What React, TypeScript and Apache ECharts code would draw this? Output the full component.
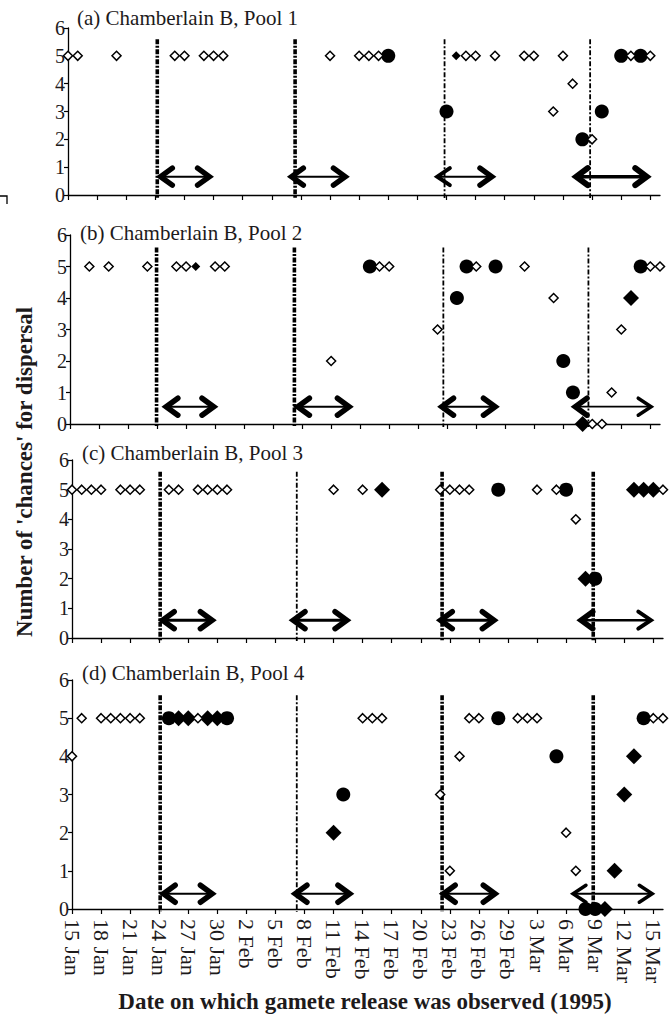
import React, { useEffect, useRef } from 'react';
import * as echarts from 'echarts';

// ---------- DATA ----------
const dateLabels = ['15 Jan', '18 Jan', '21 Jan', '24 Jan', '27 Jan', '30 Jan', '2 Feb', '5 Feb', '8 Feb', '11 Feb', '14 Feb', '17 Feb', '20 Feb', '23 Feb', '26 Feb', '29 Feb', '3 Mar', '6 Mar', '9 Mar', '12 Mar', '15 Mar'];
const tickDays = dateLabels.map((_, i) => i * 3); // day index from 15 Jan
const yTicks = [0, 1, 2, 3, 4, 5, 6];

const panelTitles = ['(a) Chamberlain B, Pool 1', '(b) Chamberlain B, Pool 2', '(c) Chamberlain B, Pool 3', '(d) Chamberlain B, Pool 4'];
const yAxisTitle = "Number of 'chances' for dispersal";
const xAxisTitle = 'Date on which gamete release was observed (1995)';

// [day, chances]
const openA = [[0, 5], [1, 5], [5, 5], [11, 5], [12, 5], [14, 5], [15, 5], [16, 5], [27, 5], [30, 5], [31, 5], [32, 5], [41, 5], [42, 5], [44, 5], [47, 5], [48, 5], [51, 5], [52, 4], [50, 3], [54, 2], [58, 5], [60, 5]];
const smallFilledA = [[40, 5]];
const filledDiamondA: number[][] = [];
const circleA = [[33, 5], [39, 3], [53, 2], [55, 3], [57, 5], [59, 5]];
const vLinesA = [9.2, 23.4, 38.8, 53.8];
const arrowsA = [[9.2, 14.9, 0.66], [22.7, 28.9, 0.66], [37.8, 44.0, 0.66], [52.0, 60.0, 0.66]];

const openB = [[2, 5], [4, 5], [8, 5], [11, 5], [12, 5], [15, 5], [16, 5], [27, 2], [32, 5], [33, 5], [38, 3], [42, 5], [47, 5], [50, 4], [54, 0], [55, 0], [56, 1], [57, 3], [60, 5], [61, 5]];
const smallFilledB = [[13, 5]];
const filledDiamondB = [[53, 0], [58, 4]];
const circleB = [[31, 5], [40, 4], [41, 5], [44, 5], [51, 2], [52, 1], [59, 5]];
const vLinesB = [8.95, 23.2, 38.6, 53.6];
const arrowsB = [[9.6, 15.2, 0.55], [23.2, 29.2, 0.55], [38.1, 44.3, 0.55], [51.9, 60.3, 0.55]];

const openC = [[0, 5], [1, 5], [2, 5], [3, 5], [5, 5], [6, 5], [7, 5], [10, 5], [11, 5], [13, 5], [14, 5], [15, 5], [16, 5], [27, 5], [30, 5], [38, 5], [39, 5], [40, 5], [41, 5], [48, 5], [50, 5], [52, 4], [61, 5]];
const smallFilledC: number[][] = [];
const filledDiamondC = [[32, 5], [58, 5], [59, 5], [60, 5], [53, 2]];
const circleC = [[44, 5], [51, 5], [54, 2]];
const vLinesC = [9.1, 23.2, 38.2, 53.8];
const arrowsC = [[9.0, 14.8, 0.6], [22.5, 28.7, 0.6], [37.7, 43.9, 0.6], [52.2, 60.0, 0.6]];

const openD = [[0, 4], [1, 5], [3, 5], [4, 5], [5, 5], [6, 5], [7, 5], [13, 5], [30, 5], [31, 5], [32, 5], [41, 5], [42, 5], [46, 5], [47, 5], [48, 5], [60, 5], [61, 5], [40, 4], [38, 3], [51, 2], [39, 1], [52, 1]];
const smallFilledD: number[][] = [];
const filledDiamondD = [[11, 5], [12, 5], [14, 5], [15, 5], [27, 2], [58, 4], [57, 3], [56, 1], [55, 0]];
const circleD = [[10, 5], [16, 5], [28, 3], [44, 5], [59, 5], [50, 4], [53, 0], [54, 0]];
const vLinesD = [9.1, 23.2, 38.2, 53.8];
const arrowsD = [[9.1, 14.8, 0.4], [22.7, 29.0, 0.4], [38.0, 44.0, 0.4], [51.5, 60.1, 0.4]];

// ---------- STYLE ----------
const INK = '#000000';
const TXT = '#1d1a1b';
const SERIF = 'Liberation Serif';

const grids = [
  { left: 68, top: 28, width: 592, height: 167 },
  { left: 70, top: 235, width: 590, height: 189 },
  { left: 72, top: 460, width: 591, height: 178 },
  { left: 72, top: 680, width: 591, height: 229 },
];
const titleTops = [7, 222, 442, 662];
const titleLefts = [77, 80, 82, 82];
// vertical line weights: true = thick
const vLineThick = [
  [true, true, false, false],
  [true, true, false, false],
  [true, false, true, true],
  [true, false, true, true],
];
// arrow styles: [left head width, right head width, shaft width]
const arrowStyle = [
  [[5.5, 5.5, 2], [5.5, 5.5, 2], [4, 5.5, 2], [6, 6, 3.5]],
  [[5.5, 5.5, 2], [5.5, 5.5, 2], [5.5, 5.5, 2], [5.5, 3.5, 1.8]],
  [[5.5, 5.5, 3], [5.5, 5.5, 3], [5.5, 5.5, 3], [5.5, 4, 2.5]],
  [[5.5, 5.5, 2], [5.5, 5.5, 2], [5.5, 5.5, 2], [3.5, 3.5, 1.8]],
];

const panels = [
  { open: openA, small: smallFilledA, fd: filledDiamondA, circle: circleA, vlines: vLinesA, arrows: arrowsA },
  { open: openB, small: smallFilledB, fd: filledDiamondB, circle: circleB, vlines: vLinesB, arrows: arrowsB },
  { open: openC, small: smallFilledC, fd: filledDiamondC, circle: circleC, vlines: vLinesC, arrows: arrowsC },
  { open: openD, small: smallFilledD, fd: filledDiamondD, circle: circleD, vlines: vLinesD, arrows: arrowsD },
];

function buildOption() {
  const xAxis: any[] = [];
  const yAxis: any[] = [];
  const series: any[] = [];

  panels.forEach((p, i) => {
    const last = i === panels.length - 1;
    xAxis.push({
      type: 'value', gridIndex: i, min: 0, max: 61,
      axisLine: { show: true, lineStyle: { color: INK, width: 1.3 } },
      axisTick: { show: true, length: 5, customValues: tickDays, lineStyle: { color: INK, width: 1.2 } },
      axisLabel: {
        show: last, customValues: tickDays, rotate: -90, margin: 10,
        fontFamily: SERIF, fontSize: 22, color: TXT,
        formatter: (v: number) => dateLabels[Math.round(v / 3)] ?? '',
      },
      splitLine: { show: false },
    });
    yAxis.push({
      type: 'value', gridIndex: i, min: 0, max: 6, interval: 1,
      axisLine: { show: true, lineStyle: { color: INK, width: 1.3 } },
      axisTick: { show: true, length: 4, lineStyle: { color: INK, width: 1.2 } },
      axisLabel: { fontFamily: SERIF, fontSize: 20, color: TXT, margin: 3, customValues: yTicks },
      splitLine: { show: false },
    });

    // vertical lines
    series.push({
      type: 'custom', xAxisIndex: i, yAxisIndex: i, clip: false, z: 1,
      data: p.vlines.map((d) => [d, 0]),
      encode: { x: 0, y: 1 },
      renderItem: (params: any, api: any) => {
        const x = api.value(0);
        const top = api.coord([x, 5.6]);
        const bot = api.coord([x, 0]);
        const thick = vLineThick[i][params.dataIndex];
        return {
          type: 'line',
          shape: { x1: top[0], y1: top[1], x2: bot[0], y2: bot[1] + 3 },
          style: { stroke: INK, lineWidth: thick ? 3.6 : 1.8, lineDash: thick ? [5, 1.5, 2, 1.5] : [5, 2, 2, 2] },
        };
      },
    });

    // arrows
    series.push({
      type: 'custom', xAxisIndex: i, yAxisIndex: i, clip: false, z: 2,
      data: p.arrows,
      encode: { x: [0, 1], y: 2 },
      renderItem: (params: any, api: any) => {
        const x1 = api.value(0), x2 = api.value(1), y = api.value(2);
        const a = api.coord([x1, y]);
        const b = api.coord([x2, y]);
        const st = arrowStyle[i][params.dataIndex];
        const hl = 15, hh = 8.5;
        const common = { stroke: INK, fill: null, lineJoin: 'miter', miterLimit: 10, lineCap: 'round' };
        return {
          type: 'group',
          children: [
            { type: 'line', shape: { x1: a[0] + 3, y1: a[1], x2: b[0] - 3, y2: b[1] }, style: { stroke: INK, lineWidth: st[2] } },
            { type: 'polyline', shape: { points: [[a[0] + hl, a[1] - hh], [a[0] + st[0] * 0.6, a[1]], [a[0] + hl, a[1] + hh]] }, style: { ...common, lineWidth: st[0] } },
            { type: 'polyline', shape: { points: [[b[0] - hl, b[1] - hh], [b[0] - st[1] * 0.6, b[1]], [b[0] - hl, b[1] + hh]] }, style: { ...common, lineWidth: st[1] } },
          ],
        };
      },
    });

    series.push({
      type: 'scatter', xAxisIndex: i, yAxisIndex: i, clip: false, z: 3,
      symbol: 'circle', symbolSize: 14, data: p.circle,
      itemStyle: { color: INK, opacity: 1 },
    });
    series.push({
      type: 'scatter', xAxisIndex: i, yAxisIndex: i, clip: false, z: 4,
      symbol: 'diamond', symbolSize: 16, data: p.fd,
      itemStyle: { color: INK, opacity: 1 },
    });
    series.push({
      type: 'scatter', xAxisIndex: i, yAxisIndex: i, clip: false, z: 5,
      symbol: 'diamond', symbolSize: 9, data: p.small,
      itemStyle: { color: INK, opacity: 1 },
    });
    series.push({
      type: 'scatter', xAxisIndex: i, yAxisIndex: i, clip: false, z: 6,
      symbol: 'diamond', symbolSize: [9, 9], data: p.open,
      itemStyle: { color: '#fff', borderColor: INK, borderWidth: 1.5, opacity: 1 },
    });
  });

  return {
    animation: false,
    backgroundColor: '#fff',
    title: panelTitles.map((t, i) => ({
      text: t, left: titleLefts[i], top: titleTops[i], padding: 0,
      textStyle: { fontFamily: SERIF, fontSize: 21, fontWeight: 'normal', color: TXT },
    })),
    grid: grids,
    xAxis,
    yAxis,
    series,
    graphic: [
      {
        type: 'text', x: 24, y: 472, rotation: Math.PI / 2,
        style: { text: yAxisTitle, font: `bold 23px "${SERIF}"`, fill: TXT, align: 'center', verticalAlign: 'middle' },
      },
      {
        type: 'text', x: 365, y: 1001,
        style: { text: xAxisTitle, font: `bold 23px "${SERIF}"`, fill: TXT, align: 'center', verticalAlign: 'middle' },
      },
      {
        type: 'polyline', shape: { points: [[0, 196], [7, 196], [7, 204]] },
        style: { stroke: INK, lineWidth: 1.3, fill: null },
      },
    ],
  };
}

export default function App() {
  const ref = useRef<HTMLDivElement>(null);
  useEffect(() => {
    if (!ref.current) return;
    const chart = echarts.init(ref.current, null, { renderer: 'svg' });
    chart.setOption(buildOption() as any);
    return () => chart.dispose();
  }, []);
  return <div ref={ref} style={{ position: 'absolute', left: 0, top: 0, width: 672, height: 1026, background: '#fff' }} />;
}
